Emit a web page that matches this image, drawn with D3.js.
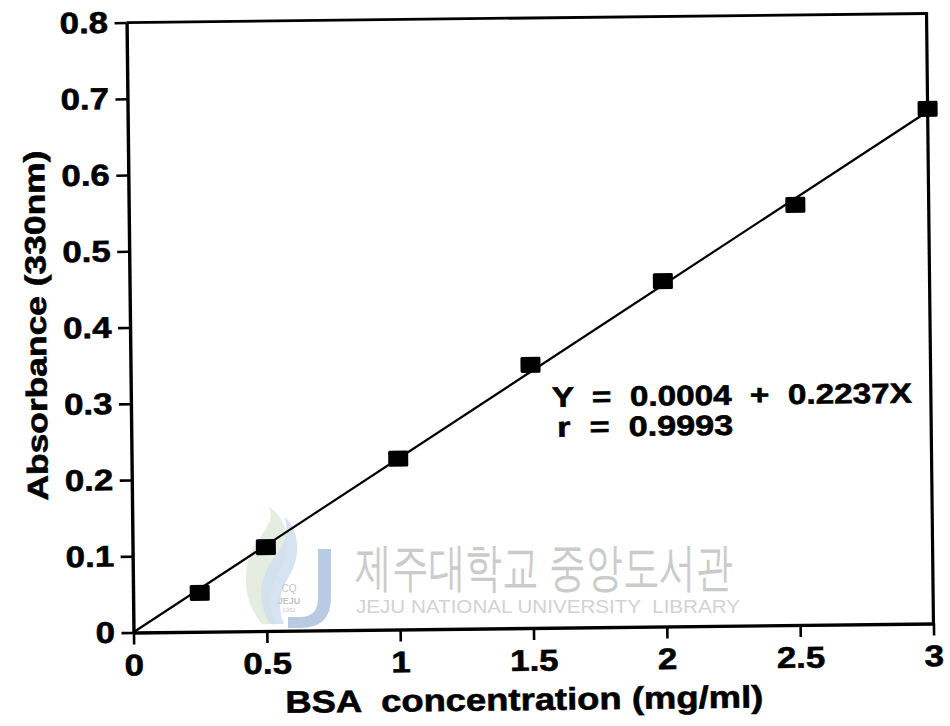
<!DOCTYPE html>
<html>
<head>
<meta charset="utf-8">
<script src="https://cdn.jsdelivr.net/npm/d3@7"></script>
<style>
  html, body { margin: 0; padding: 0; background: #ffffff; }
  svg { display: block; }
  text { font-family: "Liberation Sans", Arial, Helvetica, sans-serif; }
</style>
</head>
<body>
<script>
// BSA standard curve: absorbance at 330 nm vs. concentration
const concentration = [0.25, 0.5, 1, 1.5, 2, 2.5, 3];
const absorbance    = [0.051, 0.110, 0.224, 0.345, 0.453, 0.551, 0.675];

const xTicks      = [0, 0.5, 1, 1.5, 2, 2.5, 3];
const xTickLabels = ["0", "0.5", "1", "1.5", "2", "2.5", "3"];
const yTicks      = [0, 0.1, 0.2, 0.3, 0.4, 0.5, 0.6, 0.7, 0.8];
const yTickLabels = ["0", "0.1", "0.2", "0.3", "0.4", "0.5", "0.6", "0.7", "0.8"];

// linear fit reported on the chart
const fitIntercept = 0.0004;
const fitSlope     = 0.2237;
const fitR         = 0.9993;

const xTitle = "BSA  concentration (mg/ml)";
const yTitle = "Absorbance (330nm)";
const libraryName = "제주대학교 중앙도서관";
const libraryNameEn = "JEJU NATIONAL UNIVERSITY  LIBRARY";

const W = 950, H = 726;
const svg = d3.select("body").append("svg")
  .attr("width", W).attr("height", H);

svg.append("rect").attr("width", W).attr("height", H).attr("fill", "#ffffff");

// ---- library watermark (drawn beneath the plot) ----
const wm = svg.append("g").attr("class", "watermark");
wm.append("path")
  .attr("d", "M262,624 C240,598 242,562 258,540 C270,524 274,516 268,506 C290,520 292,548 280,570 C270,588 268,606 276,624 Z")
  .attr("fill", "#dfeadb").attr("opacity", 0.85);
wm.append("path")
  .attr("d", "M270,624 C256,600 260,576 274,558 C286,544 290,530 284,516 C302,534 300,560 288,578 C278,594 278,610 284,624 Z")
  .attr("fill", "#cfdeee").attr("opacity", 0.85);
wm.append("path")
  .attr("d", "M318,549 H331 V598 Q331,628 300,628 H288 V617 H300 Q318,617 318,598 Z")
  .attr("fill", "#b9cbe3");
wm.append("text").attr("x", 289).attr("y", 592).attr("text-anchor", "middle")
  .attr("font-size", 10).attr("fill", "#c4c4c4").text("CQ");
wm.append("text").attr("x", 289).attr("y", 604).attr("text-anchor", "middle")
  .attr("font-size", 9).attr("font-weight", "bold").attr("fill", "#c4c4c4").text("JEJU");
wm.append("text").attr("x", 289).attr("y", 612).attr("text-anchor", "middle")
  .attr("font-size", 6).attr("fill", "#cccccc").text("1952");
wm.append("text")
  .attr("x", 355).attr("y", 585)
  .attr("font-family", "'Noto Sans CJK KR', sans-serif")
  .attr("font-size", 52).attr("font-weight", 300)
  .attr("fill", "#cbcbcb")
  .attr("textLength", 378).attr("lengthAdjust", "spacingAndGlyphs")
  .text(libraryName);
wm.append("text")
  .attr("x", 356).attr("y", 613)
  .attr("font-size", 19)
  .attr("fill", "#d2d2d2")
  .style("white-space", "pre")
  .attr("textLength", 384).attr("lengthAdjust", "spacingAndGlyphs")
  .text(libraryNameEn);

// ---- plot (the whole figure sits slightly askew on the page) ----
const g = svg.append("g").attr("transform", "rotate(-0.65,530,322)");

const x = d3.scaleLinear().domain([0, 3]).range([130, 930]);
const y = d3.scaleLinear().domain([0, 0.8]).range([628, 18]);

const xAxis = d3.axisBottom(x)
  .tickValues(xTicks)
  .tickFormat((d, i) => xTickLabels[i])
  .tickSize(12).tickSizeOuter(0).tickPadding(9.5);
const yAxis = d3.axisLeft(y)
  .tickValues(yTicks)
  .tickFormat((d, i) => yTickLabels[i])
  .tickSize(12).tickSizeOuter(0).tickPadding(6.5);

// widen a bold label so its glyphs take the broad, heavy look of the lettering
function widen(sel, factor) {
  sel.each(function () {
    const len = this.getComputedTextLength();
    d3.select(this)
      .attr("textLength", len * factor)
      .attr("lengthAdjust", "spacingAndGlyphs");
  });
}

function styleAxis(sel) {
  sel.select(".domain").attr("stroke", "#000").attr("stroke-width", 3.4);
  sel.selectAll(".tick line").attr("stroke", "#000").attr("stroke-width", 2.6);
  sel.selectAll(".tick text")
    .attr("fill", "#000")
    .attr("stroke", "#000").attr("stroke-width", 0.6)
    .attr("font-family", "'Liberation Sans', Arial, sans-serif")
    .attr("font-size", 30)
    .attr("font-weight", "bold")
    .call(widen, 1.16);
}

g.append("g").attr("transform", `translate(0,${y(0)})`).call(xAxis).call(styleAxis);
g.append("g").attr("transform", `translate(${x(0)},0)`).call(yAxis).call(styleAxis);

// frame: top and right edges
g.append("line")
  .attr("x1", x(0)).attr("x2", x(3)).attr("y1", y(0.8)).attr("y2", y(0.8))
  .attr("stroke", "#000").attr("stroke-width", 2.8);
g.append("line")
  .attr("x1", x(3)).attr("x2", x(3)).attr("y1", y(0.8) - 1.4).attr("y2", y(0) + 1.6)
  .attr("stroke", "#000").attr("stroke-width", 3.2);

// regression line Y = a + bX
const fitLine = d3.line().x(d => x(d)).y(d => y(fitIntercept + fitSlope * d));
g.append("path")
  .datum([0, 3])
  .attr("d", fitLine)
  .attr("fill", "none").attr("stroke", "#000").attr("stroke-width", 2.2);

// measured points (filled squares)
const mW = 20, mH = 16;
g.selectAll("rect.pt")
  .data(concentration.map((c, i) => ({ c, a: absorbance[i] })))
  .join("rect")
  .attr("class", "pt")
  .attr("x", d => x(d.c) - mW / 2)
  .attr("y", d => y(d.a) - mH / 2)
  .attr("width", mW).attr("height", mH)
  .attr("rx", 1.5)
  .attr("fill", "#000");

function boldText(sel) {
  sel.attr("font-weight", "bold")
    .attr("fill", "#000")
    .attr("stroke", "#000").attr("stroke-width", 0.6);
}

// equation text
g.append("text")
  .attr("x", 551).attr("y", 407)
  .attr("font-size", 28).call(boldText)
  .style("white-space", "pre")
  .attr("textLength", 360).attr("lengthAdjust", "spacingAndGlyphs")
  .text(`Y  =  ${fitIntercept.toFixed(4)}  +  ${fitSlope.toFixed(4)}X`);
g.append("text")
  .attr("x", 556).attr("y", 437)
  .attr("font-size", 28).call(boldText)
  .style("white-space", "pre")
  .attr("textLength", 176).attr("lengthAdjust", "spacingAndGlyphs")
  .text(`r  =  ${fitR.toFixed(4)}`);

// axis titles
g.append("text")
  .attr("x", 520).attr("y", 710)
  .attr("text-anchor", "middle")
  .attr("font-size", 31).call(boldText)
  .style("white-space", "pre")
  .attr("textLength", 478).attr("lengthAdjust", "spacingAndGlyphs")
  .text(xTitle);
g.append("text")
  .attr("transform", "translate(46,320) rotate(-90)")
  .attr("text-anchor", "middle")
  .attr("font-size", 29).call(boldText)
  .attr("textLength", 350).attr("lengthAdjust", "spacingAndGlyphs")
  .text(yTitle);
</script>
</body>
</html>
